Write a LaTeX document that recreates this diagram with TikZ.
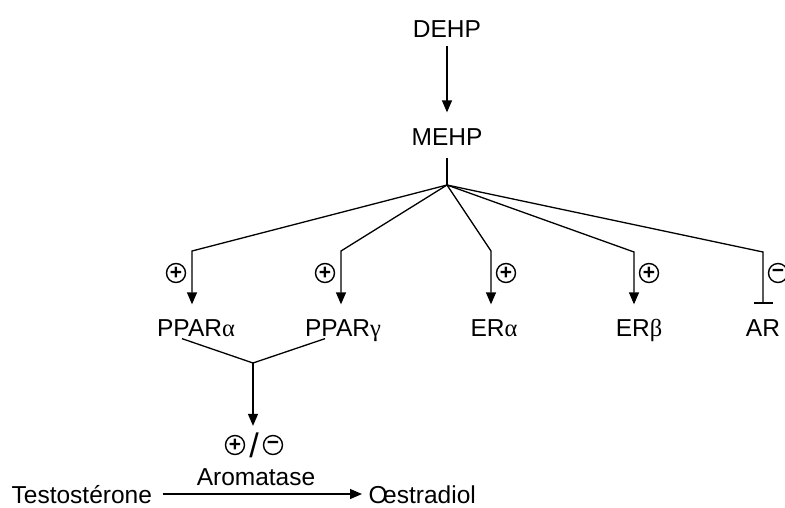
\documentclass[tikz,border=0pt]{standalone}
\usepackage{fontspec}
\setmainfont{Liberation Sans}
\newfontfamily\greekfont{Liberation Serif}
\usetikzlibrary{arrows.meta}

\tikzset{
	lbl/.style={font=\fontsize{24.5}{29}\selectfont, inner sep=2pt, text height=18pt, text depth=0pt},
	sign/.style={circle, draw, line width=1.4pt, minimum size=19pt, inner sep=0pt, font=\fontsize{21}{21}\bfseries},
	act/.style={-{Triangle[length=12pt,width=10pt]}},
	inh/.style={-{Bar[width=19pt,line width=2.4pt]}},
}
\newcommand{\grk}[1]{{\greekfont #1}}

\begin{document}
\begin{tikzpicture}[x=1pt, y=-1pt, line width=1.3pt]
	\useasboundingbox (0,0) rectangle (785,507);
	\clip (0,0) rectangle (785,507);
	% Nodes and points:
	\node[lbl, anchor=base] (dehp) at (447,37) {DEHP};
	\node[lbl, anchor=base] (mehp) at (447,145) {MEHP};
	\node[lbl, anchor=base] (ppara) at (196,336) {PPAR\grk{α}};
	\node[lbl, anchor=base] (pparg) at (343,336) {PPAR\grk{γ}};
	\node[lbl, anchor=base] (era) at (494,336) {ER\grk{α}};
	\node[lbl, anchor=base] (erb) at (639,336) {ER\grk{β}};
	\node[lbl, anchor=base] (ar) at (763,336) {AR};
	\node[lbl, anchor=base] (arom) at (256,485) {Aromatase};
	\node[lbl, anchor=base west] (testo) at (9,503) {Testostérone};
	\node[lbl, anchor=base west] (oest) at (366,503) {O\kern-4.5pt estradiol};
	\node[sign] (pa) at (176,273) {+};
	\node[sign] (pg) at (325,273) {+};
	\node[sign] (pe) at (506,273) {+};
	\node[sign] (pb) at (649,273) {+};
	\node[sign] (mar) at (778,273) {−};
	\node[sign] (pmod) at (235,445) {+};
	\node[sign] (mmod) at (273,445) {−};
	\node[inner sep=0pt, font=\fontsize{34}{34}\selectfont] (slash) at (254,445) {/};
	\coordinate (hub) at (447,185);
	\coordinate (c1) at (192,251);
	\coordinate (c2) at (341,251);
	\coordinate (c3) at (491,251);
	\coordinate (c4) at (634,252);
	\coordinate (c5) at (763,252);
	\coordinate (jn) at (253,363);

	% Paths:
	\draw[act, shorten <=6pt, shorten >=12pt] (dehp.south) -- (mehp.north);
	\draw[shorten <=10pt] (mehp.south) -- (hub);
	\draw[act, shorten >=11pt] (hub) -- (c1) -- (c1 |- ppara.north);
	\draw[act, shorten >=11pt] (hub) -- (c2) -- (c2 |- pparg.north);
	\draw[act, shorten >=11pt] (hub) -- (c3) -- (c3 |- era.north);
	\draw[act, shorten >=11pt] (hub) -- (c4) -- (c4 |- erb.north);
	\draw[inh, shorten >=11pt] (hub) -- (c5) -- (c5 |- ar.north);
	\draw ([xshift=-14pt]ppara.south) -- (jn) -- ([xshift=-18pt]pparg.south);
	\draw[act, shorten >=6pt] (jn) -- (jn |- slash.north);
	\draw[act, shorten <=8pt, shorten >=4pt] (testo.east) -- (oest.west);
\end{tikzpicture}
\end{document}
